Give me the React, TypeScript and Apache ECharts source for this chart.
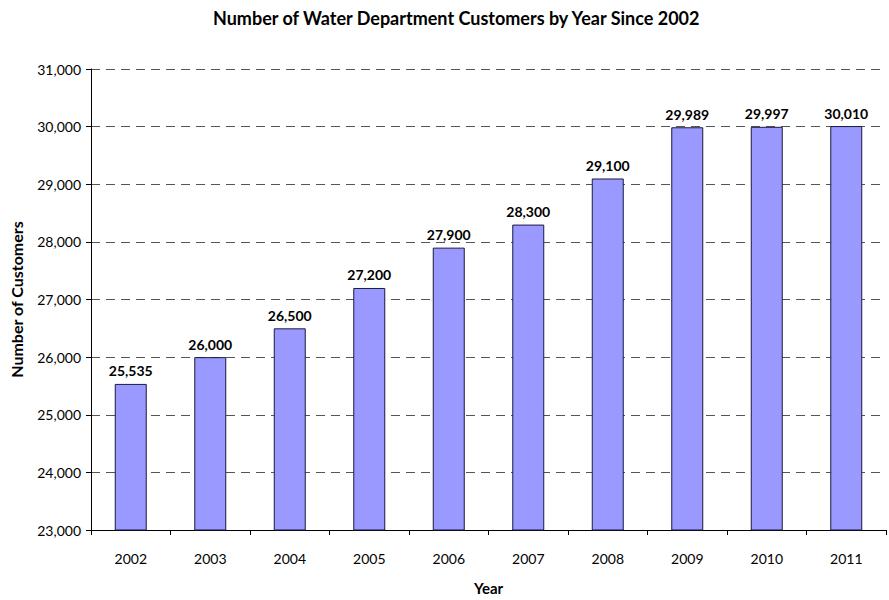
import React, { useEffect, useRef } from "react";
import * as echarts from "echarts";

const years = ["2002", "2003", "2004", "2005", "2006", "2007", "2008", "2009", "2010", "2011"];
const customers = [25535, 26000, 26500, 27200, 27900, 28300, 29100, 29989, 29997, 30010];
const titleText = "Number of Water Department Customers by Year Since 2002";
const xName = "Year";
const yName = "Number of Customers";

const FONT = "Lato, 'Open Sans', sans-serif";

export default function App() {
  const ref = useRef<HTMLDivElement>(null);
  useEffect(() => {
    if (!ref.current) return;
    const chart = echarts.init(ref.current, null, { renderer: "svg" });
    const fmt = (v: number) => v.toLocaleString("en-US");
    chart.setOption({
      animation: false,
      backgroundColor: "#ffffff",
      textStyle: { fontFamily: FONT },
      title: {
        text: titleText,
        left: 208,
        top: 4,
        textStyle: { fontFamily: FONT, fontSize: 18, fontWeight: "bold", color: "#000" },
      },
      grid: { left: 91, right: 3, top: 69, bottom: 65, containLabel: false },
      xAxis: {
        type: "category",
        data: years,
        name: xName,
        nameLocation: "middle",
        nameGap: 50,
        nameTextStyle: { fontFamily: FONT, fontSize: 15, fontWeight: "bold", color: "#000" },
        axisLine: { lineStyle: { color: "#000", width: 1 } },
        axisTick: { show: true, length: 5, lineStyle: { color: "#000" } },
        axisLabel: { fontFamily: FONT, fontSize: 14, color: "#000", margin: 21 },
      },
      yAxis: {
        type: "value",
        min: 23000,
        max: 31000,
        interval: 1000,
        name: yName,
        nameLocation: "middle",
        nameGap: 67,
        nameRotate: 90,
        nameTextStyle: { fontFamily: FONT, fontSize: 16, fontWeight: "bold", color: "#000" },
        axisLine: { show: true, lineStyle: { color: "#000", width: 1 } },
        axisTick: { show: true, length: 5, lineStyle: { color: "#000" } },
        axisLabel: { fontFamily: FONT, fontSize: 14, color: "#000", margin: 10, formatter: fmt },
        splitLine: { show: true, lineStyle: { color: "#555", type: [9, 6], width: 1 } },
      },
      series: [
        {
          type: "bar",
          data: customers,
          barWidth: 32,
          itemStyle: { color: "#9999FF", borderColor: "#1a1a40", borderWidth: 1 },
          label: {
            show: true,
            position: "top",
            distance: 6,
            fontFamily: FONT,
            fontSize: 14,
            fontWeight: "bold",
            color: "#000",
            formatter: (p: any) => fmt(p.value),
          },
        },
      ],
    });
    return () => chart.dispose();
  }, []);
  return <div ref={ref} style={{ width: 889, height: 600, position: "absolute", left: 0, top: 0 }} />;
}
